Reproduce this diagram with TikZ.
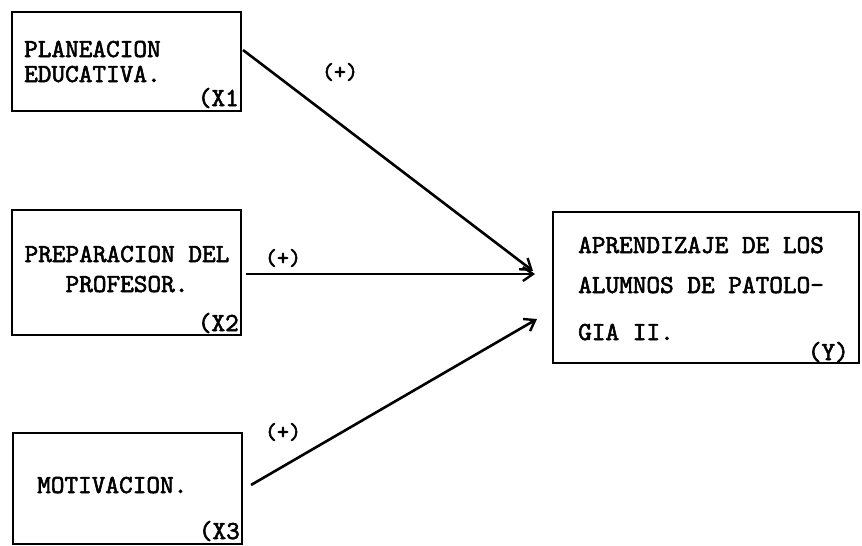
\documentclass[tikz,border=0pt]{standalone}
\usepackage{fontspec}
\newfontfamily\tw[Extension=.otf,FakeBold=2.2]{lmmono10-regular}
\usetikzlibrary{arrows.meta}
\begin{document}
\begin{tikzpicture}[x=1pt,y=-1pt,
  box/.style={draw,line width=2pt,rectangle,inner sep=0pt},
  txt/.style={inner sep=0pt,font=\tw\fontsize{26}{26}\selectfont},
  lbl/.style={inner sep=0pt,font=\tw\fontsize{23}{23}\selectfont},
  arr/.style={line width=2.6pt,-{Straight Barb[length=10pt,width=14pt,line width=2.4pt]}}]
\useasboundingbox (0,0) rectangle (862,546);
% boxes
\node[box,minimum width=229pt,minimum height=99pt] (x1) at (126.5,61.5) {};
\node[box,minimum width=229pt,minimum height=125pt] (x2) at (126.5,272.5) {};
\node[box,minimum width=229pt,minimum height=111pt] (x3) at (127.5,488.5) {};
\node[box,minimum width=306pt,minimum height=151pt] (y) at (706,287.5) {};
% texts
\node[txt,anchor=base west] (t1a) at (24,57) {PLANEACION};
\node[txt,anchor=base west] (t1b) at (24,82) {EDUCATIVA.};
\node[txt,anchor=base east] (t1c) at (239,106) {(X1};
\node[txt,anchor=base] (t2a) at (127,262) {PREPARACION DEL};
\node[txt,anchor=base] (t2b) at (127,292) {PROFESOR.};
\node[txt,anchor=base east] (t2c) at (239,331) {(X2};
\node[txt,anchor=base west] (t3a) at (37,493) {MOTIVACION.};
\node[txt,anchor=base east] (t3c) at (240,539) {(X3};
\node[txt,anchor=base west] (tya) at (578,253) {APRENDIZAJE DE LOS};
\node[txt,anchor=base west] (tyb) at (578,293) {ALUMNOS DE PATOLO-};
\node[txt,anchor=base west] (tyc) at (578,340) {GIA II.};
\node[txt,anchor=base east] (tyd) at (849,360) {(Y)};
% arrow ends
\coordinate (e1) at (533,271);
\coordinate (e2) at (535,274);
\coordinate (e3) at (537,319);
\coordinate (s1) at ([xshift=1pt,yshift=11.5pt]x1.east);
\coordinate (s2) at ([xshift=4pt,yshift=-1.5pt]x2.east);
\coordinate (s3) at ([xshift=8pt,yshift=3.5pt]x3.east);
\draw[arr] (s1) -- (e1);
\draw[arr] (s2) -- (e2);
\draw[arr] (s3) -- (e3);
% labels
\node[lbl] (l1) at (340,72) {(+)};
\node[lbl] (l2) at (283,258) {(+)};
\node[lbl] (l3) at (283,432) {(+)};
\end{tikzpicture}
\end{document}
